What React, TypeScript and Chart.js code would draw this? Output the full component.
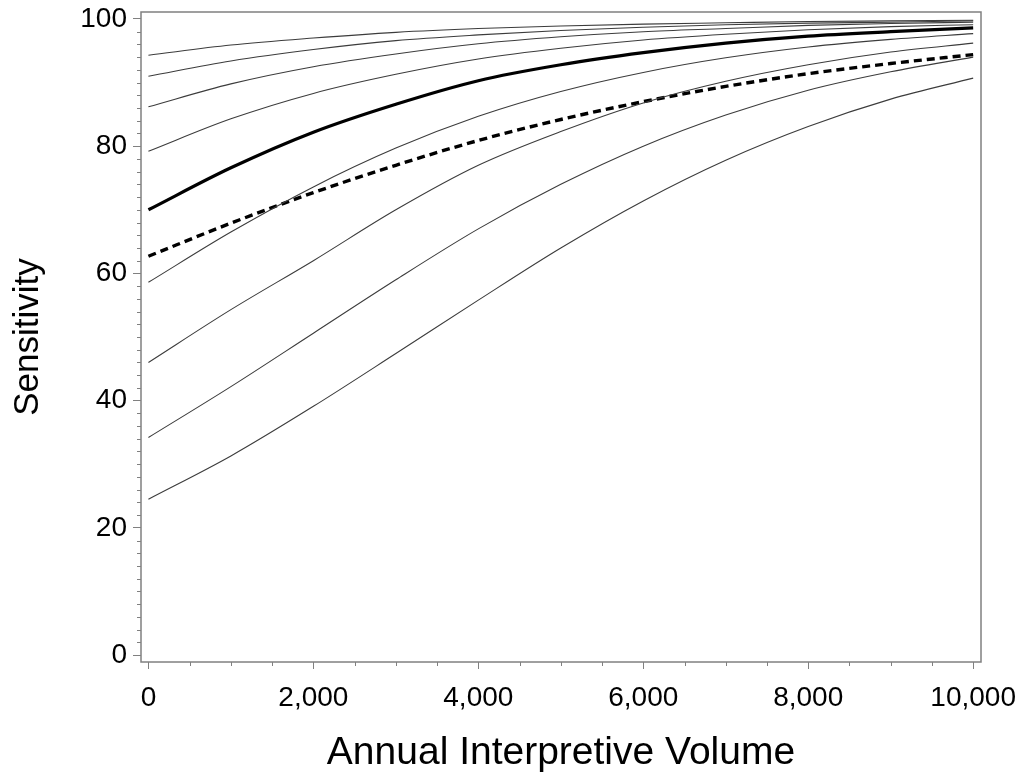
import { useEffect, useRef } from "react";
import { Chart, registerables } from "chart.js";

Chart.register(...registerables);

// Annual interpretive volume (x)
const volumes = [0, 1000, 2000, 3000, 4000, 5000, 6000, 7000, 8000, 9000, 10000];

// Tick labels
const xTickValues = [0, 2000, 4000, 6000, 8000, 10000];
const yTickValues = [0, 20, 40, 60, 80, 100];

// Thin curves (sensitivity, %)
const curve1 = [24.5, 31.3, 39.1, 47.4, 55.8, 64.0, 71.4, 77.8, 83.1, 87.4, 90.7];
const curve2 = [34.2, 42.2, 50.6, 59.0, 67.0, 74.0, 80.0, 84.9, 88.8, 91.7, 94.0];
const curve3 = [46.0, 54.3, 62.0, 70.0, 77.0, 82.3, 86.8, 90.2, 92.8, 94.8, 96.2];
const curve4 = [58.6, 66.5, 73.6, 79.7, 84.7, 88.6, 91.6, 93.9, 95.6, 96.8, 97.7];
const curve5 = [79.2, 84.3, 88.3, 91.3, 93.7, 95.4, 96.7, 97.6, 98.3, 98.8, 99.1];
const curve6 = [86.2, 89.8, 92.5, 94.5, 96.1, 97.2, 98.0, 98.5, 99.0, 99.3, 99.5];
const curve7 = [91.0, 93.4, 95.2, 96.6, 97.5, 98.2, 98.7, 99.1, 99.35, 99.5, 99.7];
const curve8 = [94.3, 95.9, 97.0, 97.9, 98.5, 98.9, 99.2, 99.4, 99.6, 99.7, 99.8];

// Bold solid curve and dashed curve
const boldCurve = [70.0, 76.6, 82.2, 86.6, 90.3, 92.8, 94.7, 96.2, 97.3, 98.0, 98.6];
const dashedCurve = [62.7, 67.9, 72.7, 77.0, 80.9, 84.2, 87.0, 89.4, 91.4, 93.0, 94.4];

const thinCurves = [curve1, curve2, curve3, curve4, curve5, curve6, curve7, curve8];

const toPoints = (ys: number[]) => ys.map((y, i) => ({ x: volumes[i], y }));

const FONT = "'Liberation Sans', Arial, Helvetica, sans-serif";
const AXIS_COLOR = "#808080";

const framePlugin = {
  id: "frameAndMinorTicks",
  afterDraw(chart: any) {
    const { ctx, chartArea, scales } = chart;
    const { left, top, right, bottom } = chartArea;
    const xs = scales.x;
    const ys = scales.y;
    ctx.save();
    ctx.strokeStyle = AXIS_COLOR;
    ctx.lineWidth = 1.5;
    ctx.strokeRect(left, top, right - left, bottom - top);
    ctx.lineWidth = 1;
    for (let v = 0; v <= 100; v += 2) {
      if (v % 20 === 0) continue;
      const py = Math.round(ys.getPixelForValue(v)) + 0.5;
      ctx.beginPath();
      ctx.moveTo(left - 4, py);
      ctx.lineTo(left, py);
      ctx.stroke();
    }
    for (let v = 0; v <= 10000; v += 500) {
      if (v % 2000 === 0) continue;
      const px = Math.round(xs.getPixelForValue(v)) + 0.5;
      ctx.beginPath();
      ctx.moveTo(px, bottom);
      ctx.lineTo(px, bottom + 4);
      ctx.stroke();
    }
    ctx.restore();
  },
};

const zeroPadding = (scale: any) => {
  scale.paddingTop = 0;
  scale.paddingBottom = 0;
  scale.paddingLeft = 0;
  scale.paddingRight = 0;
};

export default function App() {
  const canvasRef = useRef<HTMLCanvasElement | null>(null);

  useEffect(() => {
    if (!canvasRef.current) return;
    const datasets: any[] = [];
    thinCurves.forEach((c, i) => {
      datasets.push({
        label: `curve${i + 1}`,
        data: toPoints(c),
        borderColor: "#3c3c3c",
        borderWidth: 1.1,
        pointRadius: 0,
        fill: false,
        cubicInterpolationMode: "monotone",
      });
    });
    datasets.push({
      label: "bold",
      data: toPoints(boldCurve),
      borderColor: "#000000",
      borderWidth: 3.2,
      pointRadius: 0,
      fill: false,
      cubicInterpolationMode: "monotone",
    });
    datasets.push({
      label: "dashed",
      data: toPoints(dashedCurve),
      borderColor: "#000000",
      borderWidth: 3.4,
      borderDash: [8, 5],
      borderCapStyle: "butt",
      pointRadius: 0,
      fill: false,
      cubicInterpolationMode: "monotone",
    });

    const chart = new Chart(canvasRef.current, {
      type: "line",
      data: { datasets },
      plugins: [framePlugin],
      options: {
        animation: false,
        responsive: true,
        maintainAspectRatio: false,
        layout: { padding: { left: 0, top: 12, right: 44, bottom: 0 } },
        plugins: {
          legend: { display: false },
          tooltip: { enabled: false },
        },
        scales: {
          x: {
            type: "linear",
            min: -90,
            max: 10095,
            afterBuildTicks: (scale: any) => {
              scale.ticks = xTickValues.map((v) => ({ value: v }));
            },
            afterFit: (scale: any) => {
              scale.height = 115;
              zeroPadding(scale);
            },
            grid: {
              display: true,
              drawOnChartArea: false,
              drawTicks: true,
              tickLength: 7,
              color: AXIS_COLOR,
              lineWidth: 1,
            },
            border: { display: false },
            ticks: {
              autoSkip: false,
              maxRotation: 0,
              padding: 12,
              color: "#000",
              font: { family: FONT, size: 28 },
              callback: (v: any) => Number(v).toLocaleString("en-US"),
            },
            title: {
              display: true,
              text: "Annual Interpretive Volume",
              color: "#000",
              font: { family: FONT, size: 39 },
              padding: { top: 0, bottom: 0 },
            },
          },
          y: {
            type: "linear",
            min: -1.1,
            max: 101.1,
            afterBuildTicks: (scale: any) => {
              scale.ticks = yTickValues.map((v) => ({ value: v }));
            },
            afterFit: (scale: any) => {
              scale.width = 141;
              zeroPadding(scale);
            },
            grid: {
              display: true,
              drawOnChartArea: false,
              drawTicks: true,
              tickLength: 8,
              color: AXIS_COLOR,
              lineWidth: 1,
            },
            border: { display: false },
            ticks: {
              autoSkip: false,
              padding: 6,
              color: "#000",
              font: { family: FONT, size: 28 },
              callback: (v: any) => String(v),
            },
            title: {
              display: true,
              text: "Sensitivity",
              color: "#000",
              font: { family: FONT, size: 35 },
              padding: { top: 7, bottom: 0 },
            },
          },
        },
      },
    });
    return () => chart.destroy();
  }, []);

  return (
    <div
      style={{
        position: "absolute",
        left: 0,
        top: 0,
        width: 1025,
        height: 777,
        background: "#fff",
      }}
    >
      <canvas ref={canvasRef} />
    </div>
  );
}
